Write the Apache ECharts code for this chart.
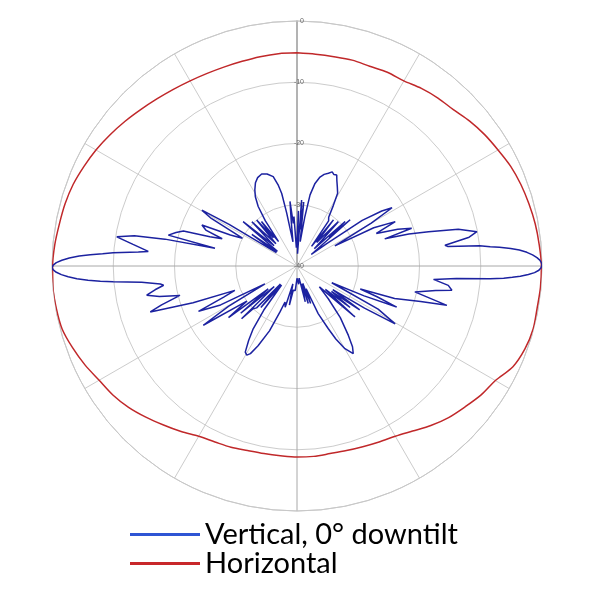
<!DOCTYPE html>
<html>
<head>
<meta charset="utf-8">
<script src="https://cdn.jsdelivr.net/npm/echarts@6/dist/echarts.min.js"></script>
<style>
  html, body { margin: 0; padding: 0; background: #fff; }
  #chart { width: 600px; height: 600px; }
</style>
</head>
<body>
<div id="chart"></div>
<script>
// ring labels (dB)
const ringTicks = [-40, -30, -20, -10, 0]

// horizontal pattern, angle in degrees clockwise from top
const hAngles = [0, 5, 10, 15, 20, 25, 30, 35, 40, 45, 50, 55, 60, 65, 70, 75, 80, 85, 90,
  95, 100, 105, 110, 115, 120, 125, 130, 135, 140, 145, 150, 155, 160, 165, 170, 175, 180,
  185, 190, 195, 200, 205, 210, 215, 220, 225, 230, 235, 240, 245, 250, 255, 260, 265, 270,
  275, 280, 285, 290, 295, 300, 305, 310, 315, 320, 325, 330, 335, 340, 345, 350, 355, 360]
const hValues = [-5.2, -5.3, -5.3, -5.2, -5.3, -5.1, -5.1, -4.6, -4.2, -3.9, -3.2, -2.6, -2.1, -1.5, -1.1, -0.8, -0.5, -0.3, -0.1,
  -0.1, -0.2, -0.1, -0.4, -1.1, -2.6, -3.3, -4.2, -5.0, -6.0, -7.1, -7.9, -8.3, -8.6, -8.8, -8.9, -8.8, -8.8,
  -8.9, -8.9, -8.8, -8.5, -8.3, -7.9, -7.0, -6.1, -5.1, -4.1, -3.3, -2.7, -1.8, -1.0, -0.3, -0.1, 0, -0.1,
  -0.3, -0.6, -0.8, -1.1, -1.6, -2.1, -2.7, -3.3, -3.9, -4.4, -4.8, -5.1, -5.3, -5.4, -5.4, -5.3, -5.2, -5.2]

// vertical pattern (0 deg downtilt)
const vAngles = [0, 1.5, 2.5, 4, 5, 6, 7.5, 9, 10.4, 12.3, 14.5, 16.5, 18.7, 20.5, 22, 23.6, 25, 27, 29.2, 31, 33, 35,
  36.5, 38.3, 40, 43, 45, 47.3, 48, 49, 51, 53, 55, 57, 58.5, 60, 62, 63.5, 65.7, 67.7, 70, 71.8, 72.8, 74, 75.4,
  77.2, 79.2, 80.5, 82, 82.6, 83.7, 84.3, 84.7, 85.3, 85.9, 86.6, 87.3, 88, 88.6, 89.2, 89.8, 90.4, 91, 91.6, 92.1,
  92.6, 93, 93.4, 93.8, 94.5, 95.6, 97.3, 98.9,
  100, 102.4, 104.7, 106, 108.4, 110, 111, 112.4, 114, 115.7, 118, 120.5, 122, 123.5, 125, 126.5, 128, 129.5,
  131.3, 133, 136.3, 140, 143.5, 145.5, 147.3, 149.9, 152, 153.5, 156, 158, 160, 161.5, 163.3, 165, 167, 170, 175,
  180, 184, 188.8, 191, 193, 196, 198.4, 200.3, 203, 206, 208, 209.4, 211, 213, 214.9, 217, 219, 221, 222.5, 224,
  225.7, 226.4, 228, 230, 231.5, 233, 235, 237.7, 239.5, 241, 243, 245.3, 247, 248.6, 250.5, 252.6, 254, 255.9,
  257.5, 259, 260.5, 261.8, 262.5, 264, 265.1, 265.6, 266.1, 266.7, 267.3, 267.9, 268.5, 269.1, 269.6, 270.2,
  270.8, 271.4, 272, 272.6, 273.1, 273.6, 274.1, 275,
  275.6, 277.5, 279.2, 280.5, 281.5, 282.2, 283.5, 285.5, 287.1, 288.5, 290, 291.5, 293.3, 295, 297, 299, 300.4,
  301.5, 303, 305, 307, 309.5, 311.5, 314.4, 316.5, 318.8, 320, 321.4, 323, 325, 326.9, 329, 331, 333.5, 336, 339,
  342, 345.1, 347, 348.1, 349, 350.5, 352.5, 353.8, 355, 356.5, 358, 360]
const vValues = [-36, -31, -38, -29.2, -34, -29.5, -36, -32, -28.2, -26.2, -25, -24.4, -24.0, -23.6, -23.9, -23.8, -24.6, -25.5, -26.4, -28.5, -30.5, -31,
  -36, -30.4, -35, -30.1, -36, -29.3, -33, -28.5, -37, -34, -27, -23.5, -21.8, -26, -33, -26, -22.4, -26, -22.5, -20.3, -25, -21, -17.8,
  -13, -10.1, -11.5, -15.6, -15.2, -10, -8.3, -6.8, -5, -3.6, -2.4, -1.5, -0.8, -0.35, -0.1, 0, -0.15, -0.5, -1.2, -2.2,
  -3.5, -4.8, -6.2, -8.4, -13.9, -17.6, -15.1, -14.4,
  -17, -20.3, -14.7, -19, -23.2, -29, -26, -22.4, -28, -33.7, -25, -21.4, -27, -33, -27.5, -33, -29, -34,
  -27.4, -35, -32.6, -29, -25.9, -24, -23, -24.4, -26.5, -28.6, -31.5, -36, -33.5, -37, -33.6, -37, -34, -38, -37,
  -38, -36, -36, -33.5, -37, -33, -33.8, -32, -28.5, -25.5, -23.8, -23.3, -23.6, -25.5, -27.5, -31, -36, -31, -36, -30.5,
  -30, -27.5, -35, -28, -34, -26, -30, -21.9, -27, -34, -26, -22.3, -27, -29.1, -22, -14.9, -17, -20.3,
  -17, -15, -16.5, -18, -17.5, -14.5, -9.9, -7.8, -5.8, -4.0, -2.6, -1.5, -0.7, -0.2, 0, -0.2,
  -0.7, -1.6, -2.8, -4.4, -6.2, -8.2, -9.9, -14,
  -15.6, -13, -10.2, -13, -18, -26.3, -18.4, -19.5, -20.6, -25, -27, -24, -23.1, -28, -30, -24, -22,
  -27, -36, -31, -36, -28.6, -35, -29.7, -35, -30, -34, -30.7, -35, -31, -28.4, -26.8, -25.8, -24.8, -24.2, -23.9,
  -24.2, -24.9, -26.5, -27.9, -31.2, -36, -33, -29.4, -33, -31.9, -37, -36]

const chart = echarts.init(document.getElementById('chart'))

function pairs(angles, values) {
  return angles.map((a, i) => [values[i], a])
}

const option = {
  animation: false,
  backgroundColor: '#fff',
  polar: {
    center: [297, 266],
    radius: 245
  },
  angleAxis: {
    type: 'value',
    min: 0,
    max: 360,
    interval: 30,
    startAngle: 90,
    clockwise: true,
    axisLine: { show: true, lineStyle: { color: '#c8c8c8', width: 1 } },
    axisTick: { show: false },
    axisLabel: { show: false },
    splitLine: {
      show: true,
      lineStyle: { color: ['#a8a8a8', '#cccccc', '#cccccc'], width: 1 }
    }
  },
  radiusAxis: {
    type: 'value',
    min: ringTicks[0],
    max: ringTicks[ringTicks.length - 1],
    interval: 10,
    axisLine: { show: true, lineStyle: { color: '#a8a8a8', width: 1.5 } },
    axisTick: { show: false },
    axisLabel: {
      show: true,
      fontSize: 7,
      color: '#666',
      margin: -7,
      fontFamily: 'Liberation Sans'
    },
    splitLine: { show: true, lineStyle: { color: '#cccccc', width: 1 } }
  },
  legend: {
    orient: 'vertical',
    left: 130,
    top: 520,
    padding: 0,
    itemWidth: 70,
    itemHeight: 3,
    itemGap: 0,
    icon: 'rect',
    textStyle: { fontSize: 29, color: '#000', fontFamily: 'Lato' },
    data: [
      { name: 'Vertical, 0° downtilt', itemStyle: { color: '#2f55d4' } },
      { name: 'Horizontal', itemStyle: { color: '#c8282a' } }
    ]
  },
  series: [
    {
      name: 'Horizontal',
      type: 'line',
      coordinateSystem: 'polar',
      symbol: 'none',
      smooth: 0.3,
      lineStyle: { color: '#c0282a', width: 1.5 },
      data: pairs(hAngles, hValues)
    },
    {
      name: 'Vertical, 0° downtilt',
      type: 'line',
      coordinateSystem: 'polar',
      symbol: 'none',
      lineStyle: { color: '#1c22a0', width: 1.5 },
      data: pairs(vAngles, vValues)
    }
  ]
}

chart.setOption(option)
</script>
</body>
</html>
